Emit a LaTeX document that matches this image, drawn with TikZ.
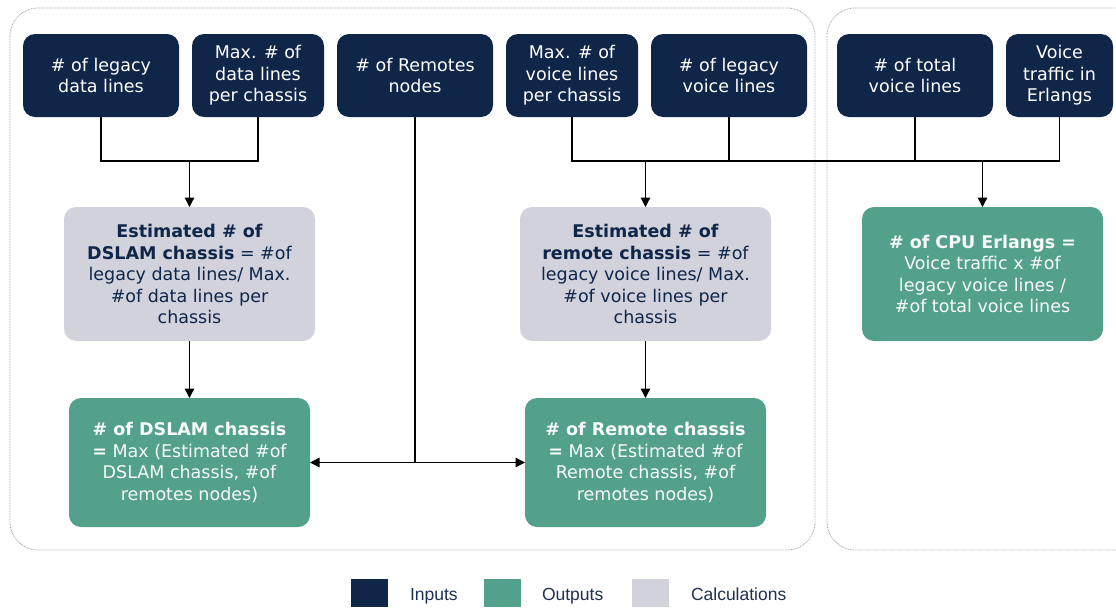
\documentclass[tikz,border=0pt]{standalone}
\usepackage{fontspec}
\setmainfont{DejaVu Sans}
\newfontfamily\legfont{Liberation Sans}
\usetikzlibrary{arrows.meta}
\definecolor{navy}{HTML}{0F2649}
\definecolor{teal}{HTML}{53A08C}
\definecolor{calcgrey}{HTML}{D2D2DC}
\definecolor{framegrey}{HTML}{A8A8A8}
\definecolor{legtext}{HTML}{1F3050}
\begin{document}
\begin{tikzpicture}[x=1pt,y=-1pt,
  every node/.style={inner sep=0pt, outer sep=0pt},
  basebox/.style={rounded corners=12pt, align=center,
    font=\fontsize{17.5}{21.5}\selectfont},
  inbox/.style={basebox, fill=navy, text=white, minimum height=83pt},
  calcbox/.style={basebox, fill=calcgrey, text=navy, minimum width=251pt, minimum height=134pt},
  outbox/.style={basebox, fill=teal, text=white!96!teal},
  frame/.style={draw=framegrey, line width=0.8pt, dash pattern=on 0.8pt off 0.8pt, rounded corners=28pt},
  conn/.style={draw=black, line width=1.35pt},
  arr/.style={conn, -{Triangle[length=9.5pt,width=9.5pt]}},
  legsq/.style={minimum width=37pt, minimum height=28pt},
  legtxt/.style={anchor=base west, text=legtext, font=\legfont\fontsize{17.5}{20}\selectfont}
]
\clip (0,0) rectangle (1116,608);
\fill[white] (0,0) rectangle (1116,608);

% containers
\draw[frame] (10,8) rectangle (815,550);
\draw[frame] (827,8) rectangle (1145,550);

% inputs
\node[inbox, minimum width=156pt] (in1) at (101,75.5) {\# of legacy\\data lines};
\node[inbox, minimum width=132pt] (in2) at (258,75.5) {Max. \# of\\data lines\\per chassis};
\node[inbox, minimum width=156pt] (in3) at (415,75.5) {\# of Remotes\\nodes};
\node[inbox, minimum width=132pt] (in4) at (572,75.5) {Max. \# of\\voice lines\\per chassis};
\node[inbox, minimum width=156pt] (in5) at (729,75.5) {\# of legacy\\voice lines};
\node[inbox, minimum width=156pt] (in6) at (915,75.5) {\# of total\\voice lines};
\node[inbox, minimum width=107pt] (in7) at (1059.5,75.5) {Voice\\traffic in\\Erlangs};

% calculations
\node[calcbox] (calc1) at (189.5,274) {\textbf{Estimated \# of}\\\textbf{DSLAM chassis} = \#of\\legacy data lines/ Max.\\\#of data lines per\\chassis};
\node[calcbox] (calc2) at (645.5,274) {\textbf{Estimated \# of}\\\textbf{remote chassis} = \#of\\legacy voice lines/ Max.\\\#of voice lines per\\chassis};

% outputs
\node[outbox, minimum width=241pt, minimum height=134pt] (cpu) at (982.5,274) {\textbf{\# of CPU Erlangs =}\\Voice traffic x \#of\\legacy voice lines /\\\#of total voice lines};
\node[outbox, minimum width=241pt, minimum height=129pt] (out1) at (189.5,462.5) {\textbf{\# of DSLAM chassis}\\\textbf{=} Max (Estimated \#of\\DSLAM chassis, \#of\\remotes nodes)};
\node[outbox, minimum width=241pt, minimum height=129pt] (out2) at (645.5,462.5) {\textbf{\# of Remote chassis}\\\textbf{=} Max (Estimated \#of\\Remote chassis, \#of\\remotes nodes)};

% junctions
\coordinate (j1) at (189.5,161);
\coordinate (j2) at (645.5,161);
\coordinate (j3) at (982.5,161);
\coordinate (j4) at (415,462.5);

% data lines
\draw[conn] (in1.south) |- (j1) -| (in2.south);
\draw[arr] (j1) -- (calc1.north);
\draw[arr] (calc1.south) -- (out1.north);

% voice lines
\draw[conn] (in4.south) |- (in7.south |- j2) -- (in7.south);
\draw[conn] (in5.south) -- (in5.south |- j2);
\draw[conn] (in6.south) -- (in6.south |- j2);
\draw[arr] (j2) -- (calc2.north);
\draw[arr] (j3) -- (cpu.north);
\draw[arr] (calc2.south) -- (out2.north);

% remotes
\draw[conn] (in3.south) -- (j4);
\draw[arr] (j4) -- (out1.east);
\draw[arr] (j4) -- (out2.west);

% legend
\node[legsq, fill=navy] (lg1) at (369.5,593) {};
\node[legtxt] (lt1) at (410,600) {Inputs};
\node[legsq, fill=teal] (lg2) at (502.5,593) {};
\node[legtxt] (lt2) at (542,600) {Outputs};
\node[legsq, fill=calcgrey] (lg3) at (650.5,593) {};
\node[legtxt] (lt3) at (691,600) {Calculations};
\end{tikzpicture}
\end{document}
